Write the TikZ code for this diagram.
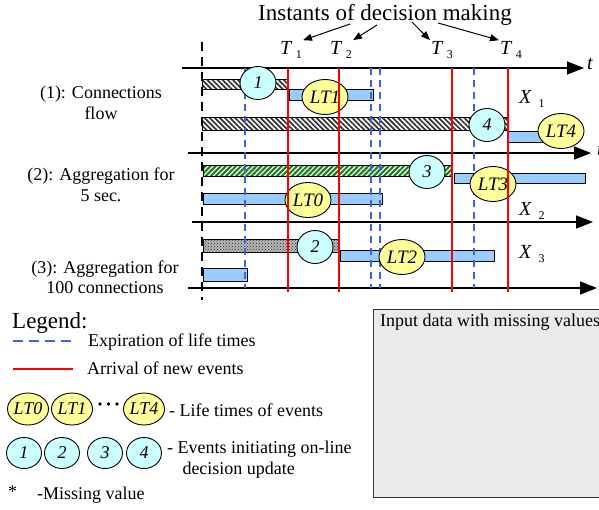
\documentclass[tikz,border=0pt]{standalone}
\usepackage{fontspec}
\setmainfont{Liberation Serif}
\usepackage{tikz}
\usetikzlibrary{shapes.geometric, arrows.meta, patterns, patterns.meta, positioning, calc}
\definecolor{expblue}{RGB}{60,100,220}
\definecolor{lifeblue}{RGB}{153,204,255}
\definecolor{ltyellow}{RGB}{255,255,153}
\definecolor{evcyan}{RGB}{204,255,255}
\definecolor{boxgray}{RGB}{234,234,234}
\definecolor{hatchgreen}{RGB}{30,125,30}
\newcommand{\sublabel}[2]{\textit{#1}\,\raisebox{-0.45ex}{\fontsize{12}{12}\selectfont #2}}
\tikzset{
    titletext/.style={font=\fontsize{23}{26}\selectfont, inner sep=0pt},
    instant/.style={font=\fontsize{20}{22}\selectfont, inner sep=1pt},
    rowtext/.style={font=\fontsize{18}{20.5}\selectfont, align=center, inner sep=0pt},
    legtext/.style={font=\fontsize{18}{20.5}\selectfont, align=left, inner sep=0pt, anchor=west},
    pointer/.style={line width=1pt, -{Triangle[length=9pt,width=7pt]}},
    timeaxis/.style={line width=1.6pt, -{Triangle[length=17pt,width=13pt]}},
    origin/.style={line width=2.4pt, dash pattern=on 9pt off 6pt},
    expiry/.style={draw=expblue, line width=2pt, dash pattern=on 7pt off 5pt},
    arrival/.style={draw=red, line width=2pt},
    lifebar/.style={draw=black, line width=0.9pt, fill=lifeblue},
    hatchbar/.style={draw=black, line width=0.9pt, pattern={Lines[angle=-45,distance=3.6pt,line width=1.7pt]}, pattern color=black!80},
    greenbar/.style={draw=black, line width=0.9pt, pattern={Lines[angle=45,distance=3.6pt,line width=2.2pt]}, pattern color=hatchgreen},
    dotbar/.style={draw=black, line width=0.9pt, fill=gray!55, postaction={pattern=crosshatch dots, pattern color=black!85}},
    ltnode/.style={ellipse, draw, line width=0.9pt, fill=ltyellow, minimum width=46pt, minimum height=35pt, inner sep=0pt, font=\fontsize{19}{19}\selectfont\itshape},
    evnode/.style={ellipse, draw, line width=0.9pt, fill=evcyan, minimum width=36pt, minimum height=33pt, inner sep=0pt, font=\fontsize{18}{18}\selectfont\itshape},
    ltkey/.style={ltnode, minimum width=41pt, minimum height=32pt, font=\fontsize{18}{18}\selectfont\itshape},
    evkey/.style={evnode, minimum width=35pt, minimum height=31pt}
}
\begin{document}
\begin{tikzpicture}[x=1pt, y=-1pt]
    \useasboundingbox (0,0) rectangle (599,509);

    % decision instants
    \node (title) [titletext] at (385,15) {Instants of decision making};
    \node (T1) [instant] at (291,50) {\sublabel{T}{1}};
    \node (T2) [instant] at (341,50) {\sublabel{T}{2}};
    \node (T3) [instant] at (442,50) {\sublabel{T}{3}};
    \node (T4) [instant] at (511,50) {\sublabel{T}{4}};
    \coordinate (s1) at (350,24);
    \coordinate (s2) at (377,25);
    \coordinate (s3) at (412,22);
    \coordinate (s4) at (438,23);
    \draw [pointer] (s1) -- (T1.north east);
    \draw [pointer] (s2) -- (T2.north east);
    \draw [pointer] (s3) -- (T3.north west);
    \draw [pointer] (s4) -- (T4.north west);

    % time axes
    \coordinate (a1s) at (182,68);  \coordinate (a1e) at (584,68);
    \coordinate (a2s) at (188,153); \coordinate (a2e) at (591,153);
    \coordinate (a3s) at (192,222); \coordinate (a3e) at (593,222);
    \coordinate (a4s) at (188,288); \coordinate (a4e) at (597,288);
    \draw [timeaxis] (a1s) -- (a1e);
    \draw [timeaxis] (a2s) -- (a2e);
    \draw [timeaxis] (a3s) -- (a3e);
    \draw [timeaxis] (a4s) -- (a4e);
    \node (t) [instant, anchor=west] at (586,64) {\textit{t}};
    \node (tcut) [instant, anchor=west] at (596,150) {\textit{t}};
    \node (X1) [instant, anchor=west] at (518,99) {\sublabel{X}{\;1}};
    \node (X2) [instant, anchor=west] at (518,211) {\sublabel{X}{\;2}};
    \node (X3) [instant, anchor=west] at (518,254) {\sublabel{X}{\;3}};

    % row captions
    \node (row1) [rowtext] at (101,103) {(1): Connections\\flow};
    \node (row2) [rowtext] at (101,185) {(2): Aggregation for\\5 sec.};
    \node (row3) [rowtext] at (105,277) {(3): Aggregation for\\100 connections};

    % bars
    \draw [hatchbar] (202,79) rectangle (288,89);
    \draw [lifebar] (289,89) rectangle (373,100);
    \draw [hatchbar] (202,117) rectangle (508,130);
    \draw [lifebar] (508,131) rectangle (562,142);
    \draw [greenbar] (203,165) rectangle (452,176);
    \draw [lifebar] (454,173) rectangle (585,183);
    \draw [lifebar] (203,193) rectangle (382,204);
    \draw [dotbar] (203,239) rectangle (338,252);
    \draw [lifebar] (340,250) rectangle (494,261);
    \draw [lifebar] (203,268) rectangle (247,281);
    \draw [origin] (202,42) -- (202,300);

    % expiration of life times
    \foreach \x in {245,371,380,474}
        \draw [expiry] (\x,68) -- (\x,288);

    % events and life times
    \node (ev1) [evnode] at (258,83) {1};
    \node (ev2) [evnode] at (315,247) {2};
    \node (ev3) [evnode] at (427,172) {3};
    \node (ev4) [evnode] at (487,125) {4};
    \node (lt0) [ltnode] at (308,200) {LT0};
    \node (lt1) [ltnode] at (325,97) {LT1};
    \node (lt2) [ltnode] at (402,257) {LT2};
    \node (lt3) [ltnode] at (493,184) {LT3};
    \node (lt4) [ltnode] at (561,131) {LT4};

    % arrival of new events
    \foreach \x in {288,339,452,508}
        \draw [arrival] (\x,68) -- (\x,292);

    % legend
    \node (legend) [legtext, font=\fontsize{23}{26}\selectfont] at (12,323) {Legend:};
    \draw [expiry, dash pattern=on 10pt off 6pt] (13,341) -- (75,341);
    \node (kexp) [legtext] at (88,342) {Expiration of life times};
    \draw [arrival] (13,369) -- (73,369);
    \node (karr) [legtext] at (87,368) {Arrival of new events};
    \node (k0) [ltkey] at (28,409) {LT0};
    \node (k1) [ltkey] at (72,409) {LT1};
    \node (k4) [ltkey] at (144,409) {LT4};
    \foreach \x in {100,108.5,117}
        \fill (\x,404) circle (1.8);
    \node (klt) [legtext] at (169,410) {- Life times of events};
    \node (e1) [evkey] at (24,453) {1};
    \node (e2) [evkey] at (62,453) {2};
    \node (e3) [evkey] at (105,453) {3};
    \node (e4) [evkey] at (144,453) {4};
    \node (kev) [legtext, anchor=north west] at (167,441) {- Events initiating on-line\\\hspace*{0.85em}decision update};
    \node (star) [legtext] at (8,492) {*};
    \node (kmiss) [legtext] at (37,495) {-Missing value};

    % input data box
    \draw [draw=black!80, line width=1pt, fill=boxgray] (373,309) rectangle (612,497);
    \node (inbox) [legtext] at (380,322) {Input data with missing values};
\end{tikzpicture}
\end{document}
